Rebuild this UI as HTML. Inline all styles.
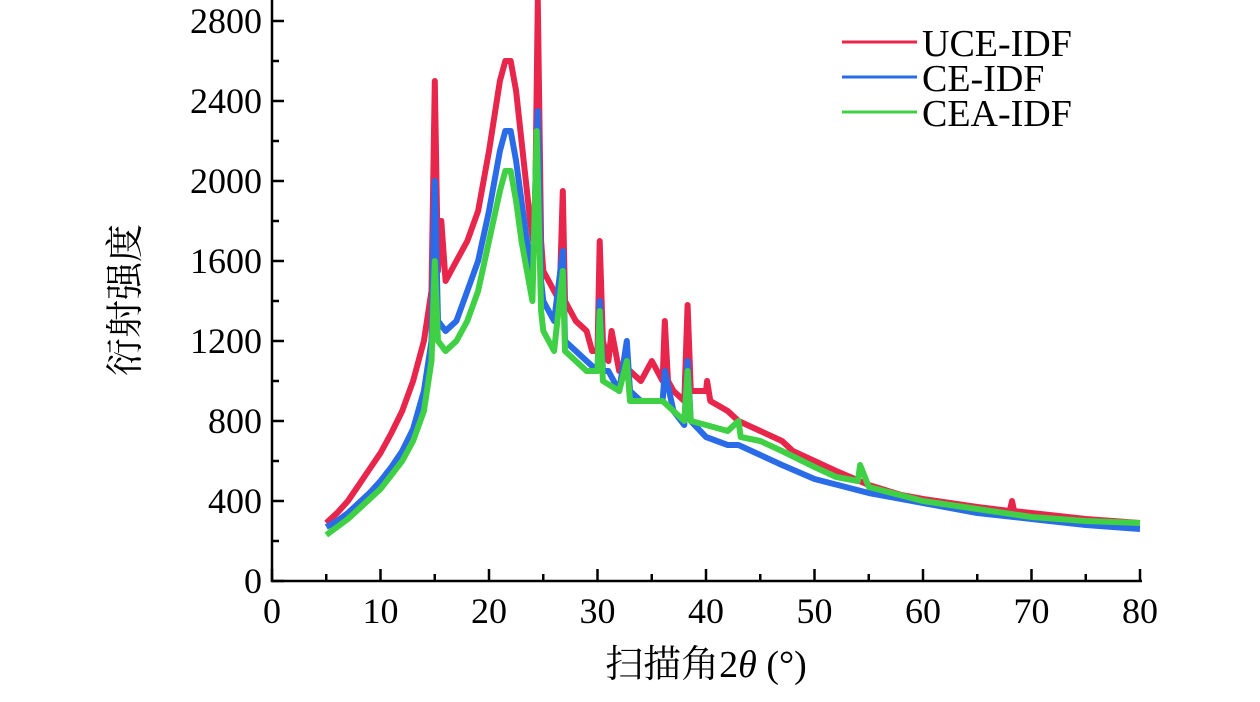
<!DOCTYPE html>
<html><head><meta charset="utf-8"><style>
body{margin:0;background:#fff}
svg text{font-family:"Liberation Serif","Noto Serif CJK SC",serif}
</style></head><body>
<svg id="chart" width="1260" height="697" xmlns="http://www.w3.org/2000/svg">
<g id="plot"></g>
<g id="axes"></g>
<g id="legend">
<line x1="842" y1="42" x2="917" y2="42" stroke="#e8254a" stroke-width="3"/>
<text x="922" y="56" font-size="38">UCE-IDF</text>
<line x1="842" y1="77" x2="917" y2="77" stroke="#2a6be8" stroke-width="3"/>
<text x="922" y="91" font-size="38">CE-IDF</text>
<line x1="842" y1="112" x2="917" y2="112" stroke="#3fd045" stroke-width="3"/>
<text x="922" y="126" font-size="38">CEA-IDF</text>
</g>
<text x="138" y="300" font-size="38" text-anchor="middle" transform="rotate(-90 138 300)">衍射强度</text>
<text x="706" y="677" font-size="38" text-anchor="middle">扫描角2<tspan font-style="italic">θ</tspan> (°)</text>
</svg>
<script>
const xTicks=[0,10,20,30,40,50,60,70,80];
const yTicks=[0,400,800,1200,1600,2000,2400,2800];
const uceX=[5,6,7,8,9,10,11,12,13,14,14.7,15,15.3,15.6,16,17,18,19,20,21,21.5,22,22.5,23,23.8,24.2,24.5,24.8,25,26,26.5,26.8,27,28,29,29.5,30,30.2,30.5,31,31.3,32,33,34,35,36,36.2,36.5,37,38,38.3,38.6,40,40.1,40.4,42,43,45,47,48,50,52,55,58,60,65,68,68.2,68.4,70,75,80];
const uceY=[290,340,400,480,560,640,740,850,1000,1200,1450,2500,1550,1800,1500,1600,1700,1850,2150,2500,2600,2600,2450,2200,1800,1650,2900,1700,1550,1450,1400,1950,1400,1300,1250,1150,1150,1700,1200,1100,1250,1050,1050,1000,1100,1000,1300,1000,950,900,1380,950,950,1000,900,850,800,750,700,650,600,550,480,430,410,370,350,400,350,340,310,290];
const ceX=[5,6,7,8,9,10,11,12,13,14,14.7,15,15.3,16,17,18,19,20,21,21.5,22,22.5,23,24,24.5,24.8,25,26,26.8,27,28,29,30,30.2,30.5,31,32,32.7,33,34,35,36,36.2,37,38,38.3,38.6,40,42,43,45,47,50,55,60,65,70,75,80];
const ceY=[270,300,340,390,440,500,570,650,760,950,1200,2000,1300,1250,1300,1450,1600,1850,2150,2250,2250,2100,1900,1500,2350,1500,1400,1300,1650,1200,1150,1100,1050,1400,1050,1050,950,1200,950,900,900,900,1050,850,780,1100,800,720,680,680,630,580,510,440,390,340,310,280,260];
const ceaX=[5,6,7,8,9,10,11,12,13,14,14.7,15,15.3,16,17,18,19,20,21,21.5,22,22.5,23,24,24.4,24.8,25,26,26.8,27,28,29,30,30.2,30.5,32,32.7,33,35,36,37,38,38.3,38.6,40,42,43,43.2,45,47,50,52,54,54.2,55,60,65,70,75,80];
const ceaY=[230,270,310,360,410,460,530,600,700,850,1100,1600,1200,1150,1200,1300,1450,1700,1950,2050,2050,1900,1700,1400,2250,1350,1250,1150,1550,1150,1100,1050,1050,1350,1000,950,1100,900,900,900,850,800,1050,800,780,750,800,720,700,650,570,520,500,580,470,400,360,320,300,290];
const X0=272,X1=1140,Y0=581,Y1=21;
const sx=v=>X0+(v-0)/80*(X1-X0);
const sy=v=>Y0-(v/2800)*(Y0-Y1);
const NS='http://www.w3.org/2000/svg';
const plot=document.getElementById('plot'),axes=document.getElementById('axes');
function mk(t,a,p){const e=document.createElementNS(NS,t);for(const k in a)e.setAttribute(k,a[k]);p.appendChild(e);return e;}
function series(xs,ys,col,name){
  let d='';xs.forEach((x,i)=>{d+=(i?'L':'M')+sx(x).toFixed(1)+' '+sy(ys[i]).toFixed(1);});
  const p=mk('path',{d:d,fill:'none',stroke:col,'stroke-width':6,'stroke-linejoin':'round'},plot);
  
  
}
series(uceX,uceY,'#e8254a','series-uce-idf');
series(ceX,ceY,'#2a6be8','series-ce-idf');
series(ceaX,ceaY,'#3fd045','series-cea-idf');
const ax=mk('path',{d:`M${X0} ${Y1-21}V${Y0}H${X1+2}`,fill:'none',stroke:'#000','stroke-width':2.5},axes);


for(let v=0;v<=80;v+=5){const x=sx(v),L=v%10?7:12;const t=mk('line',{x1:x,y1:Y0,x2:x,y2:Y0-L,stroke:'#000','stroke-width':2.5},axes);}
for(let v=0;v<=2800;v+=200){const y=sy(v),L=v%400?7:12;const t=mk('line',{x1:X0,y1:y,x2:X0+L,y2:y,stroke:'#000','stroke-width':2.5},axes);}
xTicks.forEach(v=>{const t=mk('text',{x:sx(v),y:Y0+42,'font-size':36,'text-anchor':'middle'},axes);t.textContent=v;});
yTicks.forEach(v=>{const t=mk('text',{x:X0-10,y:sy(v)+12,'font-size':36,'text-anchor':'end'},axes);t.textContent=v;});
</script>
</body></html>
